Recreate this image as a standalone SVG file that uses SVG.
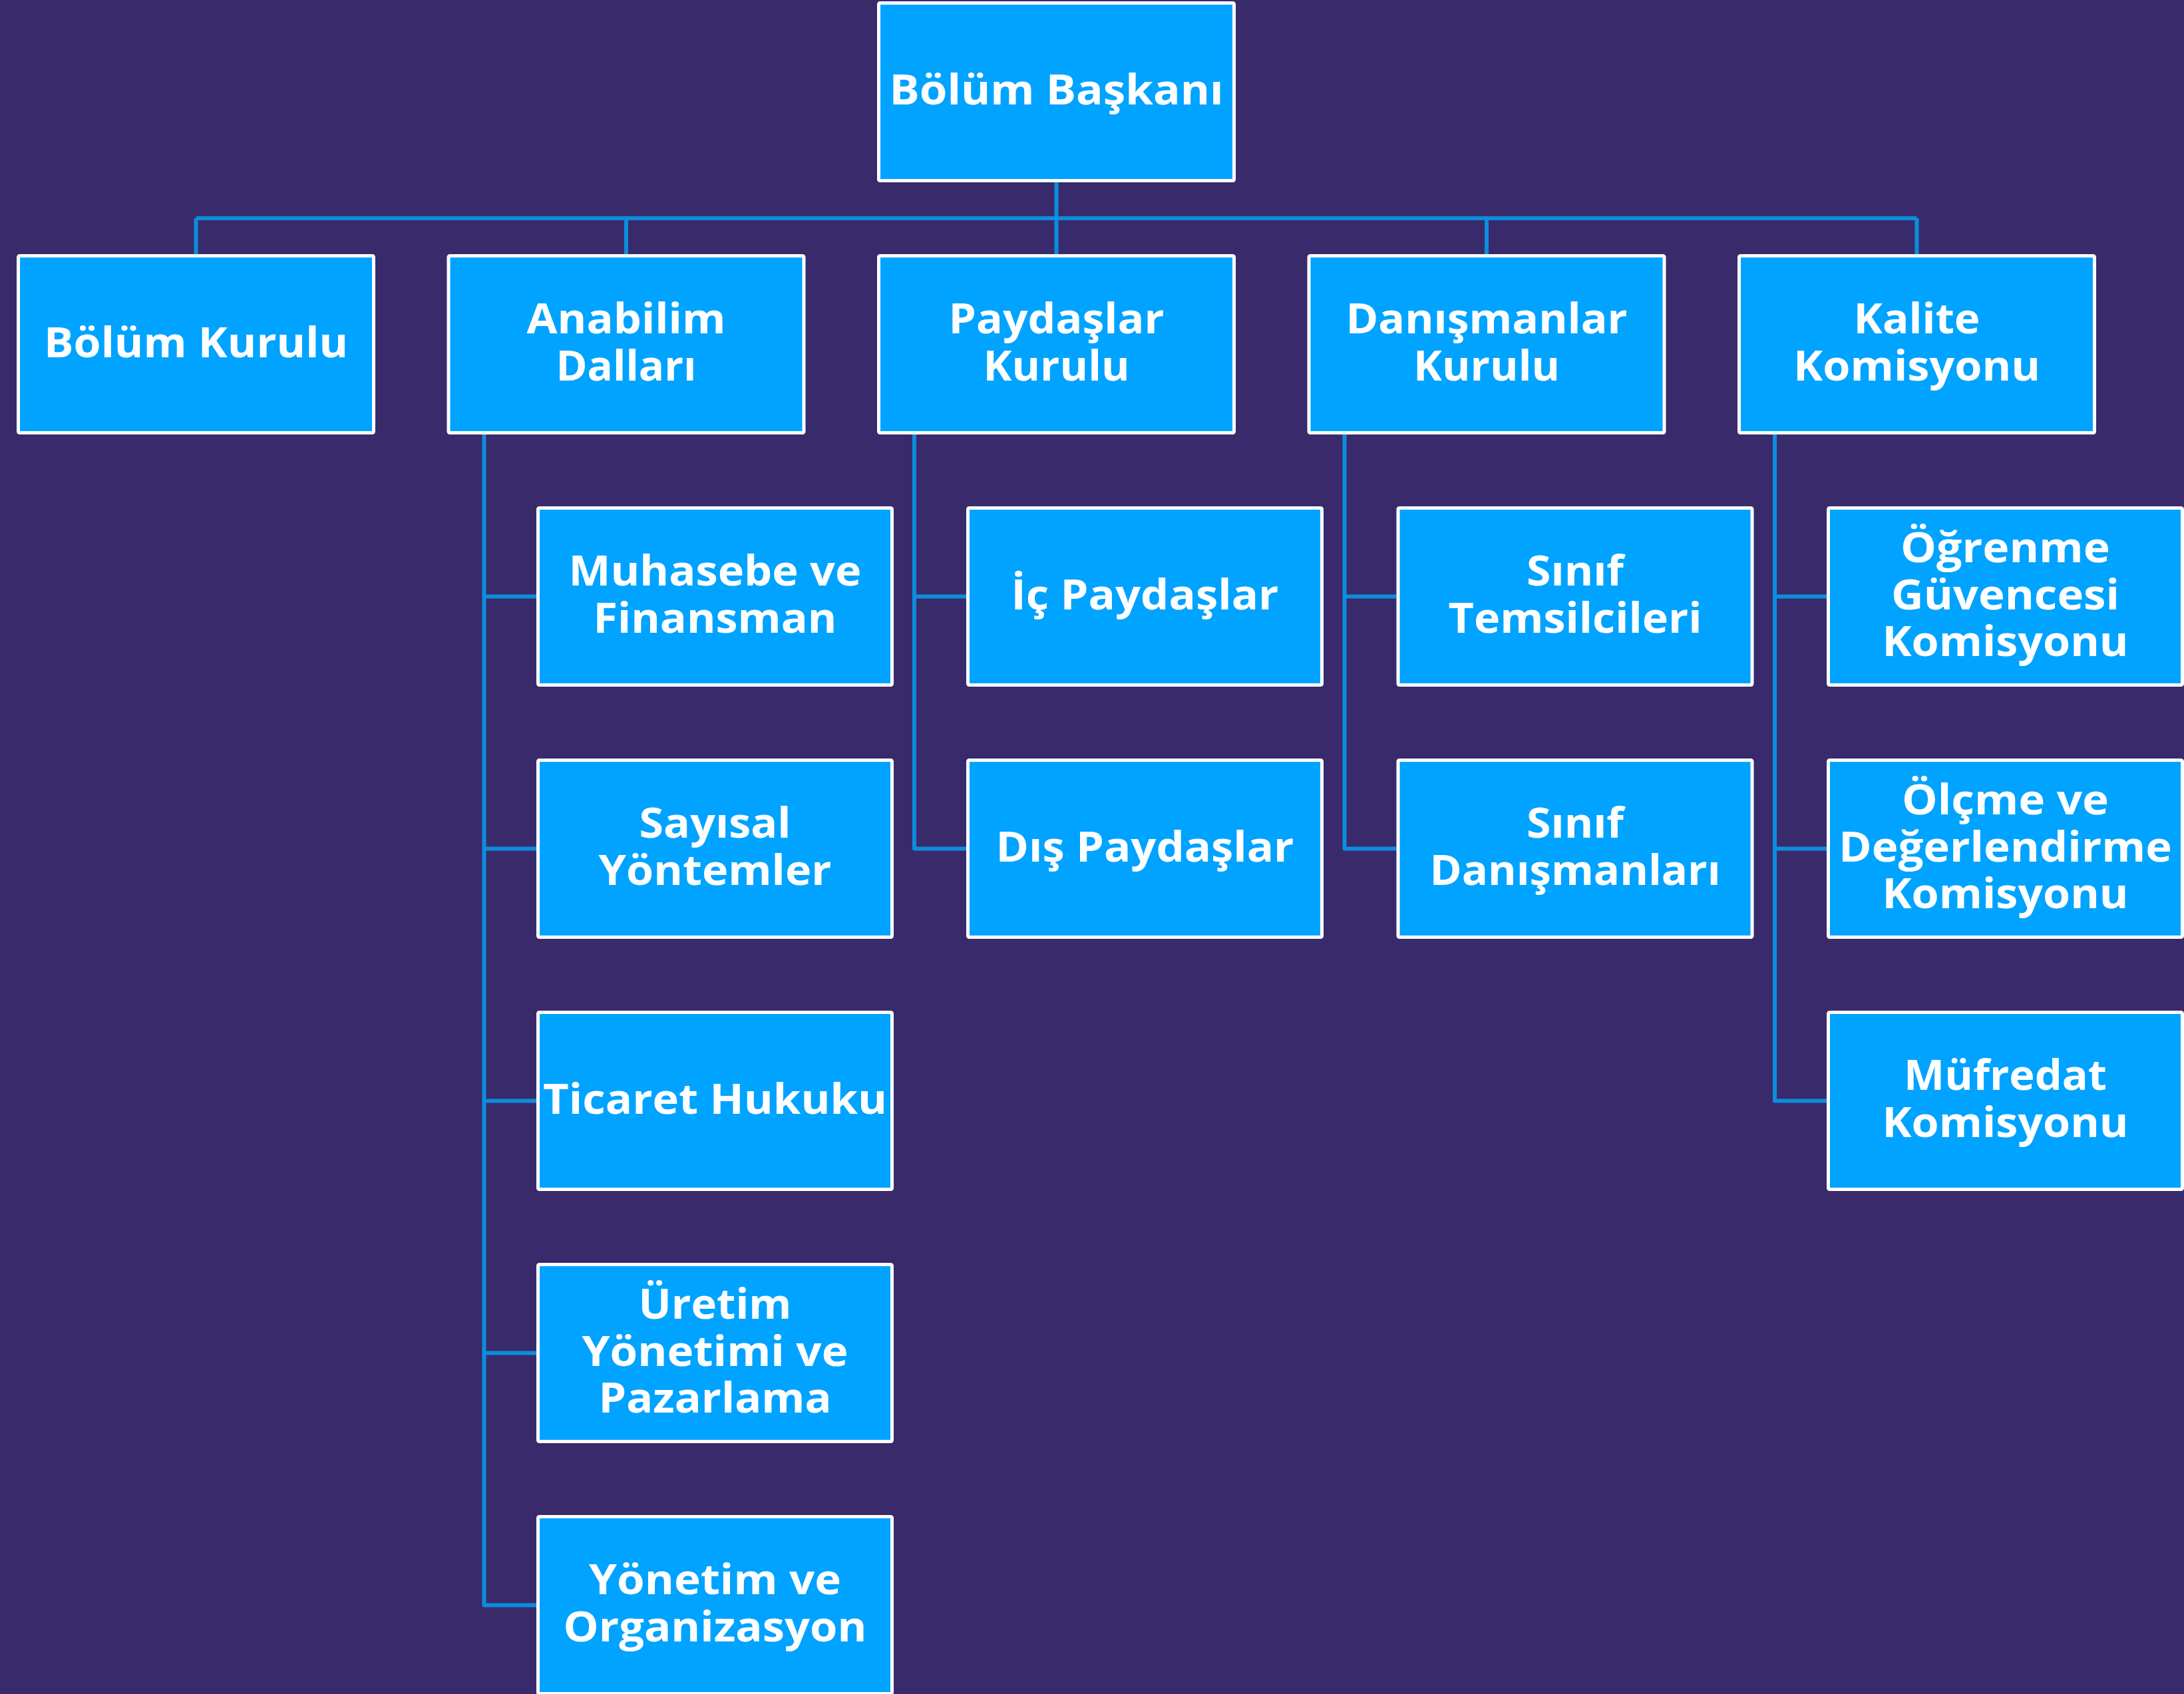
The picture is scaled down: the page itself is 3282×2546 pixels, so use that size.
<svg xmlns="http://www.w3.org/2000/svg" width="3282" height="2546" viewBox="0 0 3282 2546">
<style>
.bg{fill:#392A6C}
.box{fill:#00A3FF;stroke:#FFFFFF;stroke-width:5}
.lbl{font-family:"Open Sans","Liberation Sans",sans-serif;font-weight:700;font-size:63px;fill:#FFFFFF;text-anchor:middle}
.conn{fill:none;stroke:#0C8DDD;stroke-width:6;stroke-linejoin:round}
</style>
<rect class="bg" x="0" y="0" width="3282" height="2546"/>
<g id="connectors">
<path class="conn" d="M1587.5,274 V328 M294.5,328 H2880.5 M294.5,328 V382 M941,328 V382 M1587.5,328 V382 M2234,328 V382 M2880.5,328 V382"/>
<path class="conn" d="M727.5,653 V2412.5 H806 M727.5,896.5 H806 M727.5,1275.5 H806 M727.5,1654.5 H806 M727.5,2033.5 H806"/>
<path class="conn" d="M1374,653 V1275.5 H1452 M1374,896.5 H1452"/>
<path class="conn" d="M2020.5,653 V1275.5 H2098.5 M2020.5,896.5 H2098.5"/>
<path class="conn" d="M2667,653 V1654.5 H2745 M2667,896.5 H2745 M2667,1275.5 H2745"/>
</g>
<g id="bolum-baskani"><rect class="box" x="1320.5" y="4.5" width="534" height="267" rx="2"/><text class="lbl" x="1587.5" y="157" textLength="502" lengthAdjust="spacingAndGlyphs">Bölüm Başkanı</text></g>
<g id="bolum-kurulu"><rect class="box" x="27.5" y="384.5" width="534" height="266" rx="2"/><text class="lbl" x="294.5" y="536.5" textLength="457" lengthAdjust="spacingAndGlyphs">Bölüm Kurulu</text></g>
<g id="anabilim-dallari"><rect class="box" x="674" y="384.5" width="534" height="266" rx="2"/><text class="lbl"><tspan x="941" y="501.25" textLength="299" lengthAdjust="spacingAndGlyphs">Anabilim</tspan><tspan x="941" y="571.75" textLength="211" lengthAdjust="spacingAndGlyphs">Dalları</tspan></text></g>
<g id="paydaslar-kurulu"><rect class="box" x="1320.5" y="384.5" width="534" height="266" rx="2"/><text class="lbl"><tspan x="1587.5" y="501.25" textLength="324" lengthAdjust="spacingAndGlyphs">Paydaşlar</tspan><tspan x="1587.5" y="571.75" textLength="220" lengthAdjust="spacingAndGlyphs">Kurulu</tspan></text></g>
<g id="danismanlar-kurulu"><rect class="box" x="1967" y="384.5" width="534" height="266" rx="2"/><text class="lbl"><tspan x="2234" y="501.25" textLength="423" lengthAdjust="spacingAndGlyphs">Danışmanlar</tspan><tspan x="2234" y="571.75" textLength="220" lengthAdjust="spacingAndGlyphs">Kurulu</tspan></text></g>
<g id="kalite-komisyonu"><rect class="box" x="2613.5" y="384.5" width="534" height="266" rx="2"/><text class="lbl"><tspan x="2880.5" y="501.25" textLength="190" lengthAdjust="spacingAndGlyphs">Kalite</tspan><tspan x="2880.5" y="571.75" textLength="371" lengthAdjust="spacingAndGlyphs">Komisyonu</tspan></text></g>
<g id="muhasebe-finansman"><rect class="box" x="808.5" y="763.5" width="532" height="266" rx="2"/><text class="lbl"><tspan x="1074.5" y="880.25" textLength="440" lengthAdjust="spacingAndGlyphs">Muhasebe ve</tspan><tspan x="1074.5" y="950.75" textLength="366" lengthAdjust="spacingAndGlyphs">Finansman</tspan></text></g>
<g id="sayisal-yontemler"><rect class="box" x="808.5" y="1142.5" width="532" height="266" rx="2"/><text class="lbl"><tspan x="1074.5" y="1259.25" textLength="228" lengthAdjust="spacingAndGlyphs">Sayısal</tspan><tspan x="1074.5" y="1329.75" textLength="350" lengthAdjust="spacingAndGlyphs">Yöntemler</tspan></text></g>
<g id="ticaret-hukuku"><rect class="box" x="808.5" y="1521.5" width="532" height="266" rx="2"/><text class="lbl" x="1074.5" y="1673.5" textLength="517" lengthAdjust="spacingAndGlyphs">Ticaret Hukuku</text></g>
<g id="uretim-yonetimi-pazarlama"><rect class="box" x="808.5" y="1900.5" width="532" height="266" rx="2"/><text class="lbl"><tspan x="1074.5" y="1982" textLength="230" lengthAdjust="spacingAndGlyphs">Üretim</tspan><tspan x="1074.5" y="2052.5" textLength="400" lengthAdjust="spacingAndGlyphs">Yönetimi ve</tspan><tspan x="1074.5" y="2123" textLength="350" lengthAdjust="spacingAndGlyphs">Pazarlama</tspan></text></g>
<g id="yonetim-organizasyon"><rect class="box" x="808.5" y="2279.5" width="532" height="266" rx="2"/><text class="lbl"><tspan x="1074.5" y="2396.25" textLength="379" lengthAdjust="spacingAndGlyphs">Yönetim ve</tspan><tspan x="1074.5" y="2466.75" textLength="456" lengthAdjust="spacingAndGlyphs">Organizasyon</tspan></text></g>
<g id="ic-paydaslar"><rect class="box" x="1454.5" y="763.5" width="532" height="266" rx="2"/><text class="lbl" x="1720.5" y="915.5" textLength="402" lengthAdjust="spacingAndGlyphs">İç Paydaşlar</text></g>
<g id="dis-paydaslar"><rect class="box" x="1454.5" y="1142.5" width="532" height="266" rx="2"/><text class="lbl" x="1720.5" y="1294.5" textLength="448" lengthAdjust="spacingAndGlyphs">Dış Paydaşlar</text></g>
<g id="sinif-temsilcileri"><rect class="box" x="2101" y="763.5" width="532" height="266" rx="2"/><text class="lbl"><tspan x="2367" y="880.25" textLength="146" lengthAdjust="spacingAndGlyphs">Sınıf</tspan><tspan x="2367" y="950.75" textLength="381" lengthAdjust="spacingAndGlyphs">Temsilcileri</tspan></text></g>
<g id="sinif-danismanlari"><rect class="box" x="2101" y="1142.5" width="532" height="266" rx="2"/><text class="lbl"><tspan x="2367" y="1259.25" textLength="146" lengthAdjust="spacingAndGlyphs">Sınıf</tspan><tspan x="2367" y="1329.75" textLength="437" lengthAdjust="spacingAndGlyphs">Danışmanları</tspan></text></g>
<g id="ogrenme-guvencesi-komisyonu"><rect class="box" x="2747.5" y="763.5" width="532" height="266" rx="2"/><text class="lbl"><tspan x="3013.5" y="845" textLength="315" lengthAdjust="spacingAndGlyphs">Öğrenme</tspan><tspan x="3013.5" y="915.5" textLength="343" lengthAdjust="spacingAndGlyphs">Güvencesi</tspan><tspan x="3013.5" y="986" textLength="370" lengthAdjust="spacingAndGlyphs">Komisyonu</tspan></text></g>
<g id="olcme-degerlendirme-komisyonu"><rect class="box" x="2747.5" y="1142.5" width="532" height="266" rx="2"/><text class="lbl"><tspan x="3013.5" y="1224" textLength="311" lengthAdjust="spacingAndGlyphs">Ölçme ve</tspan><tspan x="3013.5" y="1294.5" textLength="501" lengthAdjust="spacingAndGlyphs">Değerlendirme</tspan><tspan x="3013.5" y="1365" textLength="370" lengthAdjust="spacingAndGlyphs">Komisyonu</tspan></text></g>
<g id="mufredat-komisyonu"><rect class="box" x="2747.5" y="1521.5" width="532" height="266" rx="2"/><text class="lbl"><tspan x="3013.5" y="1638.25" textLength="305" lengthAdjust="spacingAndGlyphs">Müfredat</tspan><tspan x="3013.5" y="1708.75" textLength="370" lengthAdjust="spacingAndGlyphs">Komisyonu</tspan></text></g>
</svg>
